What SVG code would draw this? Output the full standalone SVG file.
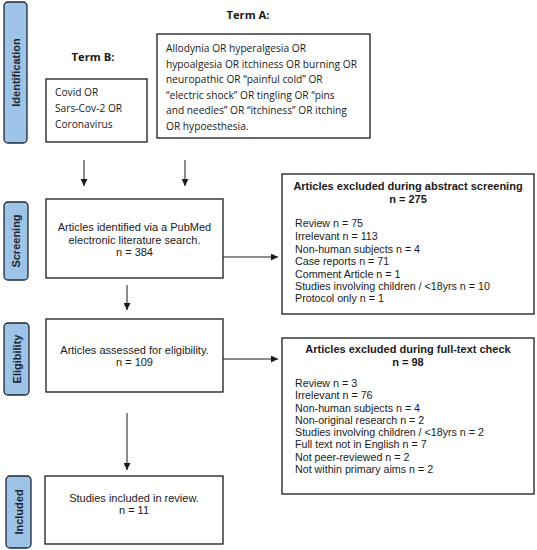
<svg xmlns="http://www.w3.org/2000/svg" width="537" height="550" viewBox="0 0 537 550">
<style>
.box{fill:#fff;stroke:#1a1a1a;stroke-width:1.3}
.lab{fill:#9dc3e6;stroke:#1e2a36;stroke-width:1.3}
.labt{font-family:"Liberation Sans",Arial,sans-serif;font-weight:bold;font-size:11px;fill:#1a2530;text-anchor:middle}
.cal{font-family:"Open Sans","Liberation Sans",sans-serif;font-size:10.2px;fill:#1a1a1a}
.calb{font-family:"Open Sans","Liberation Sans",sans-serif;font-size:11.2px;font-weight:bold;fill:#1a1a1a;text-anchor:middle}
.ar{font-family:"Liberation Sans",Arial,sans-serif;font-size:10.7px;fill:#1a1a1a}
.arc{font-family:"Liberation Sans",Arial,sans-serif;font-size:11px;fill:#1a1a1a;text-anchor:middle}
.arb{font-family:"Liberation Sans",Arial,sans-serif;font-size:11px;font-weight:bold;fill:#1a1a1a;text-anchor:middle}
.con{stroke:#1a1a1a;stroke-width:1;fill:none;marker-end:url(#ah)}
</style>
<defs>
<marker id="ah" viewBox="0 0 10 10" refX="10" refY="5" markerWidth="7" markerHeight="7" markerUnits="userSpaceOnUse" orient="auto">
<path d="M0,0 L10,5 L0,10 z" fill="#1a1a1a"/>
</marker>
</defs>
<rect width="537" height="550" fill="#fff"/>
<g id="stage-identification">
<rect class="lab" x="4" y="2" width="23" height="141" rx="4"/>
<text class="labt" transform="translate(19.5,72.5) rotate(-90)">Identification</text>
</g>
<g id="stage-screening">
<rect class="lab" x="4" y="202" width="24" height="78" rx="4"/>
<text class="labt" transform="translate(20,241) rotate(-90)">Screening</text>
</g>
<g id="stage-eligibility">
<rect class="lab" x="4" y="323" width="25" height="72" rx="4"/>
<text class="labt" transform="translate(20.5,359) rotate(-90)">Eligibility</text>
</g>
<g id="stage-included">
<rect class="lab" x="6" y="476" width="25" height="72" rx="4"/>
<text class="labt" transform="translate(22.5,512) rotate(-90)">Included</text>
</g>
<g id="term-b">
<text class="calb" x="93" y="61">Term B:</text>
<rect class="box" x="46" y="79" width="101" height="63"/>
<text class="cal" x="55" y="96">Covid OR</text>
<text class="cal" x="55" y="112">Sars-Cov-2 OR</text>
<text class="cal" x="55" y="128">Coronavirus</text>
</g>
<g id="term-a">
<text class="calb" x="248" y="19">Term A:</text>
<rect class="box" x="157" y="34" width="213" height="104"/>
<text class="cal" x="166" y="52">Allodynia OR hyperalgesia OR</text>
<text class="cal" x="166" y="67.5">hypoalgesia OR itchiness OR burning OR</text>
<text class="cal" x="166" y="83">neuropathic OR “painful cold” OR</text>
<text class="cal" x="166" y="98.5">“electric shock” OR tingling OR “pins</text>
<text class="cal" x="166" y="114">and needles” OR “itchiness” OR itching</text>
<text class="cal" x="166" y="129.5">OR hypoesthesia.</text>
</g>
<g id="identified">
<rect class="box" x="46" y="199" width="177" height="79"/>
<text class="arc" x="134.5" y="231">Articles identified via a PubMed</text>
<text class="arc" x="134.5" y="244">electronic literature search.</text>
<text class="arc" x="134.5" y="256">n = 384</text>
</g>
<g id="excluded-abstract">
<rect class="box" x="282" y="174" width="252" height="140"/>
<text class="arb" x="408" y="190">Articles excluded during abstract screening</text>
<text class="arb" x="408" y="203">n = 275</text>
<text class="ar" x="295" y="227">Review n = 75</text>
<text class="ar" x="295" y="240">Irrelevant n = 113</text>
<text class="ar" x="295" y="252.5">Non-human subjects n = 4</text>
<text class="ar" x="295" y="265">Case reports n = 71</text>
<text class="ar" x="295" y="277.5">Comment Article n = 1</text>
<text class="ar" x="295" y="290">Studies involving children / &lt;18yrs n = 10</text>
<text class="ar" x="295" y="302">Protocol only n = 1</text>
</g>
<g id="assessed">
<rect class="box" x="46" y="319" width="177" height="73"/>
<text class="arc" x="134.5" y="354">Articles assessed for eligibility.</text>
<text class="arc" x="134.5" y="366">n = 109</text>
</g>
<g id="excluded-fulltext">
<rect class="box" x="282" y="338" width="252" height="156"/>
<text class="arb" x="408" y="353">Articles excluded during full-text check</text>
<text class="arb" x="408" y="366">n = 98</text>
<text class="ar" x="295" y="387">Review n = 3</text>
<text class="ar" x="295" y="399">Irrelevant n = 76</text>
<text class="ar" x="295" y="411.5">Non-human subjects n = 4</text>
<text class="ar" x="295" y="423.5">Non-original research n = 2</text>
<text class="ar" x="295" y="436">Studies involving children / &lt;18yrs n = 2</text>
<text class="ar" x="295" y="448">Full text not in English n = 7</text>
<text class="ar" x="295" y="460.5">Not peer-reviewed n = 2</text>
<text class="ar" x="295" y="473">Not within primary aims n = 2</text>
</g>
<g id="included">
<rect class="box" x="45" y="476" width="178" height="68"/>
<text class="arc" x="134" y="502">Studies included in review.</text>
<text class="arc" x="134" y="514">n = 11</text>
</g>
<g id="connectors">
<path class="con" d="M84,160 V186"/>
<path class="con" d="M185,160 V186"/>
<path class="con" d="M223,257 H278"/>
<path class="con" d="M127,285 V310"/>
<path class="con" d="M223,359 H278"/>
<path class="con" d="M127,413 V470"/>
</g>
</svg>
